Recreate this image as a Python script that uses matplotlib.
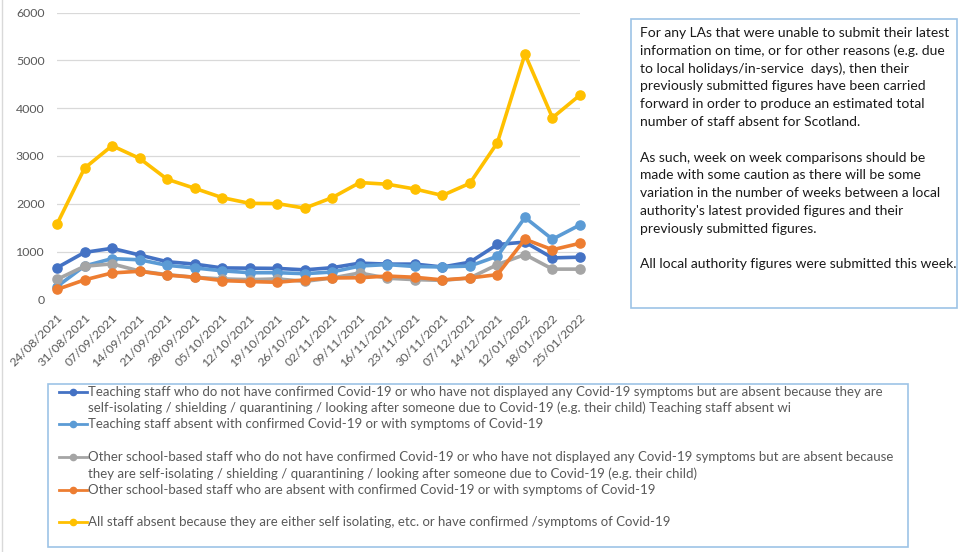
import matplotlib
matplotlib.use('Agg')
import matplotlib.pyplot as plt
from matplotlib.patches import Rectangle

dates = ['24/08/2021', '31/08/2021', '07/09/2021', '14/09/2021', '21/09/2021',
         '28/09/2021', '05/10/2021', '12/10/2021', '19/10/2021', '26/10/2021',
         '02/11/2021', '09/11/2021', '16/11/2021', '23/11/2021', '30/11/2021',
         '07/12/2021', '14/12/2021', '12/01/2022', '18/01/2022', '25/01/2022']

teach_isolating = [665, 985, 1070, 930, 790, 740, 660, 655, 650, 620,
                   665, 760, 740, 740, 680, 780, 1150, 1200, 870, 885]
teach_confirmed = [270, 700, 855, 830, 715, 660, 600, 560, 560, 540,
                   575, 700, 730, 690, 680, 700, 905, 1715, 1260, 1560]
other_isolating = [420, 695, 745, 595, 520, 465, 430, 415, 430, 380,
                   450, 555, 445, 415, 400, 450, 730, 940, 635, 635]
other_confirmed = [210, 410, 555, 590, 510, 465, 395, 375, 360, 410,
                   450, 455, 490, 465, 410, 450, 520, 1260, 1040, 1175]
all_staff = [1575, 2745, 3215, 2950, 2515, 2325, 2130, 2010, 2005, 1910,
             2130, 2445, 2410, 2310, 2175, 2430, 3280, 5130, 3800, 4275]

series = [teach_isolating, teach_confirmed, other_isolating, other_confirmed, all_staff]
colors = ['#4472C4', '#5B9BD5', '#A5A5A5', '#ED7D31', '#FFC000']

legend_labels = [
    ['Teaching staff who do not have confirmed Covid-19 or who have not displayed any Covid-19 symptoms but are absent because they are',
     'self-isolating / shielding / quarantining / looking after someone due to Covid-19 (e.g. their child) Teaching staff absent wi'],
    ['Teaching staff absent with confirmed Covid-19 or with symptoms of Covid-19'],
    ['Other school-based staff who do not have confirmed Covid-19 or who have not displayed any Covid-19 symptoms but are absent because',
     'they are self-isolating / shielding / quarantining / looking after someone due to Covid-19 (e.g. their child)'],
    ['Other school-based staff who are absent with confirmed Covid-19 or with symptoms of Covid-19'],
    ['All staff absent because they are either self isolating, etc. or have confirmed /symptoms of Covid-19'],
]

note_lines = [
    'For any LAs that were unable to submit their latest',
    'information on time, or for other reasons (e.g. due',
    'to local holidays/in-service  days), then their',
    'previously submitted figures have been carried',
    'forward in order to produce an estimated total',
    'number of staff absent for Scotland.',
    '',
    'As such, week on week comparisons should be',
    'made with some caution as there will be some',
    'variation in the number of weeks between a local',
    "authority's latest provided figures and their",
    'previously submitted figures.',
    '',
    'All local authority figures were submitted this week.',
]

plt.rcParams['font.family'] = ['Lato', 'DejaVu Sans']

W, H = 961, 552
fig = plt.figure(figsize=(W / 100, H / 100), dpi=100)

# overlay axes in pixel units for the boxes and the legend
pax = fig.add_axes([0, 0, 1, 1])
pax.set_xlim(0, W)
pax.set_ylim(H, 0)
pax.axis('off')

renderer = fig.canvas.get_renderer()


def fit_size(text, target_px, size0=10):
    t = pax.text(0, 0, text, fontsize=size0)
    w = t.get_window_extent(renderer=renderer).width
    t.remove()
    return size0 * target_px / w


leg_fs = fit_size(legend_labels[0][0], 799)
note_fs = fit_size(note_lines[0], 309)

# chart
ax = fig.add_axes([57 / W, 1 - 299.5 / H, (580 - 57) / W, (299.5 - 12.5) / H])
x = list(range(len(dates)))
for vals, c in zip(series, colors):
    ax.plot(x, vals, color=c, lw=2.6, marker='o', ms=6.6, clip_on=False, zorder=3)
ax.set_xlim(0, len(dates) - 1)
ax.set_ylim(0, 6000)
ax.set_yticks(range(0, 6001, 1000))
ax.grid(axis='y', color='#D9D9D9', lw=0.9)
ax.set_axisbelow(True)
for s in ax.spines.values():
    s.set_visible(False)
ax.set_xticks(x)
ax.set_xticklabels(dates, rotation=45, ha='right', va='top', rotation_mode='anchor')
ax.tick_params(length=0, colors='#595959', labelsize=8.9)
ax.tick_params(axis='y', pad=9)
ax.tick_params(axis='x', pad=9)

# thin frame line at the left edge
pax.plot([2, 2], [0, H], color='#D9D9D9', lw=1)

# note box
pax.add_patch(Rectangle((630.5, 19), 957 - 630.5, 308 - 19, fill=False, ec='#9DC3E6', lw=1.2))
for i, line in enumerate(note_lines):
    pax.text(640.5, 33 + i * 17.8, line, va='center', ha='left', fontsize=note_fs, color='#1A1A1A')

# legend box
pax.add_patch(Rectangle((47.5, 384), 908 - 47.5, 547 - 384, fill=False, ec='#9DC3E6', lw=1.2))
for i, (lines, c) in enumerate(zip(legend_labels, colors)):
    y0 = 391.7 + i * 32.6
    pax.plot([59, 73, 87], [y0, y0, y0], color=c, lw=2, marker='o', ms=4.5, markevery=[1])
    for j, line in enumerate(lines):
        pax.text(88, y0 + j * 16.4, line, va='center', ha='left', fontsize=leg_fs, color='#595959')

fig.savefig('out.png', dpi=100)
